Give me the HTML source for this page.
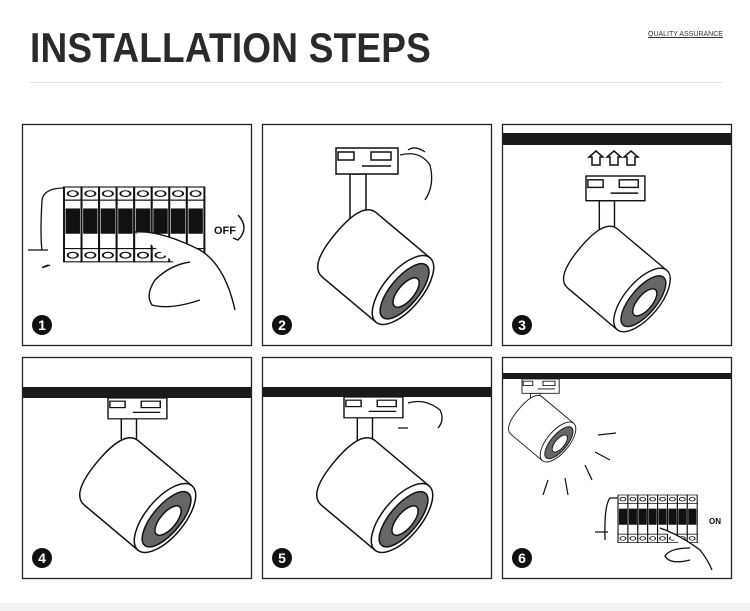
<!DOCTYPE html>
<html><head><meta charset="utf-8"><style>
body{margin:0;background:#fff;width:750px;height:611px;overflow:hidden;position:relative;font-family:"Liberation Sans",sans-serif}
.t{position:absolute;left:30px;top:25px;font-size:37px;font-weight:bold;color:#2a2a2a;letter-spacing:0.2px;transform:scaleY(1.12);transform-origin:0 0}
.q{position:absolute;left:648px;top:31px;font-size:7px;color:#333;text-decoration:underline}
.hr{position:absolute;left:30px;top:82px;width:692px;height:1px;background:#ddd}
.bot{position:absolute;left:0;top:603px;width:750px;height:8px;background:#f2f2f2}
svg{position:absolute;left:0;top:0}
</style></head><body>
<div class="t">INSTALLATION STEPS</div>
<div class="q">QUALITY ASSURANCE</div>
<div class="hr"></div>
<div class="bot"></div>
<svg width="750" height="611" viewBox="0 0 750 611">
<defs>
<g id="lamp" stroke="#111" stroke-width="1.5" fill="#fff">
<path d="M-70,-42 L0,-42 L0,42 L-70,42 Q-88,42 -88,0 Q-88,-42 -70,-42Z"/>
<ellipse cx="0" cy="0" rx="19" ry="42"/>
<ellipse cx="2" cy="0" rx="14" ry="34" fill="#666"/>
<ellipse cx="4" cy="0" rx="8" ry="18" fill="#fff"/>
</g>
<g id="mount" stroke="#111" stroke-width="1.5" fill="#fff">
<rect x="14" y="26" width="16" height="50"/>
<rect x="0" y="0" width="62" height="26"/>
<rect x="2" y="4" width="16" height="8"/>
<rect x="35" y="4" width="20" height="8"/>
<line x1="26" y1="18" x2="55" y2="18"/>
</g>
<g id="brk" stroke="#111" stroke-width="1" fill="#fff">
<rect x="0" y="0" width="9" height="12"/><circle cx="4.5" cy="6" r="2.6"/>
<rect x="0" y="12" width="9" height="44"/>
<rect x="1.3" y="20" width="6.4" height="22" fill="#111"/>
<rect x="0" y="56" width="9" height="12"/><circle cx="4.5" cy="62" r="2.6"/>
</g>
</defs>
<g fill="#fff" stroke="#222" stroke-width="1.3">
<rect x="22.5" y="124.5" width="229" height="221"/>
<rect x="262.5" y="124.5" width="229" height="221"/>
<rect x="502.5" y="124.5" width="229" height="221"/>
<rect x="22.5" y="357.5" width="229" height="221"/>
<rect x="262.5" y="357.5" width="229" height="221"/>
<rect x="502.5" y="357.5" width="229" height="221"/>
</g>
<rect x="503" y="133" width="228" height="12" fill="#1a1a1a"/>
<rect x="23" y="387" width="228" height="11" fill="#1a1a1a"/>
<rect x="263" y="387" width="228" height="10" fill="#1a1a1a"/>
<rect x="503" y="373" width="228" height="6" fill="#1a1a1a"/>
<g transform="translate(64,187) scale(1.95,1.1)">
<use href="#brk" x="0"/><use href="#brk" x="9"/><use href="#brk" x="18"/><use href="#brk" x="27"/><use href="#brk" x="36"/><use href="#brk" x="45"/><use href="#brk" x="54"/><use href="#brk" x="63"/>
</g>
<path d="M42,250 Q40,235 42,200 Q44,188 64,188 M28,250 H48 M50,265 Q36,270 48,265" stroke="#111" fill="none" stroke-width="1.3"/>
<path d="M135,232 Q160,230 200,250 Q225,265 235,310 M190,262 Q170,265 155,280 Q145,295 152,305 Q170,310 200,300" stroke="#111" fill="#fff" stroke-width="1.4"/>
<text x="214" y="234" font-size="11" font-weight="bold" fill="#111">OFF</text>
<path d="M238,215 Q250,228 238,240 L233,238" stroke="#111" fill="none" stroke-width="1.4"/>
<use href="#mount" x="336" y="148"/>
<use href="#lamp" transform="translate(403,290) rotate(40)"/>
<path d="M400,155 Q420,150 430,165 Q435,185 425,200 M408,150 Q415,145 425,152" stroke="#111" fill="none" stroke-width="1.3"/>
<use href="#mount" transform="translate(586,176) scale(0.95)"/>
<use href="#lamp" transform="translate(642,300) rotate(40) scale(0.92)"/>
<g stroke="#111" stroke-width="1.5" fill="#fff">
<path d="M592,165 v-8 h-3 l7,-6 l7,6 h-3 v8z"/><path d="M610,165 v-8 h-3 l7,-6 l7,6 h-3 v8z"/><path d="M627,165 v-8 h-3 l7,-6 l7,6 h-3 v8z"/>
</g>
<use href="#mount" transform="translate(108,398) scale(0.95,0.8)"/>
<use href="#lamp" transform="translate(165,518) rotate(40)"/>
<use href="#mount" transform="translate(344,397) scale(0.95,0.8)"/>
<use href="#lamp" transform="translate(402,518) rotate(40)"/>
<path d="M408,403 Q425,398 440,410 Q445,420 438,428 M398,428 h10" stroke="#111" fill="none" stroke-width="1.3"/>
<use href="#mount" transform="translate(522,379) scale(0.6,0.55)"/>
<use href="#lamp" transform="translate(558,442) rotate(40) scale(0.58)"/>
<g stroke="#111" stroke-width="1.2"><line x1="598" y1="435" x2="616" y2="433"/><line x1="595" y1="452" x2="610" y2="460"/><line x1="585" y1="465" x2="592" y2="480"/><line x1="565" y1="478" x2="568" y2="495"/><line x1="548" y1="480" x2="543" y2="495"/></g>
<g transform="translate(618,495) scale(1.1,0.7)">
<use href="#brk" x="0"/><use href="#brk" x="9"/><use href="#brk" x="18"/><use href="#brk" x="27"/><use href="#brk" x="36"/><use href="#brk" x="45"/><use href="#brk" x="54"/><use href="#brk" x="63"/>
</g>
<path d="M605,540 Q604,505 610,498 H618 M595,532 H608 M660,528 Q680,535 700,550 Q708,560 712,570 M690,548 Q670,548 665,556 Q670,565 690,560" stroke="#111" fill="#fff" stroke-width="1.3"/>
<text x="709" y="524" font-size="8" font-weight="bold" fill="#111">ON</text>
<g fill="#111"><circle cx="42" cy="325" r="10"/><circle cx="282" cy="325" r="10"/><circle cx="522" cy="325" r="10"/><circle cx="42" cy="558" r="10"/><circle cx="282" cy="558" r="10"/><circle cx="522" cy="558" r="10"/></g>
<g fill="#fff" font-size="14" font-weight="bold" text-anchor="middle">
<text x="42" y="330">1</text><text x="282" y="330">2</text><text x="522" y="330">3</text><text x="42" y="563">4</text><text x="282" y="563">5</text><text x="522" y="563">6</text>
</g>
</svg>
</body></html>
